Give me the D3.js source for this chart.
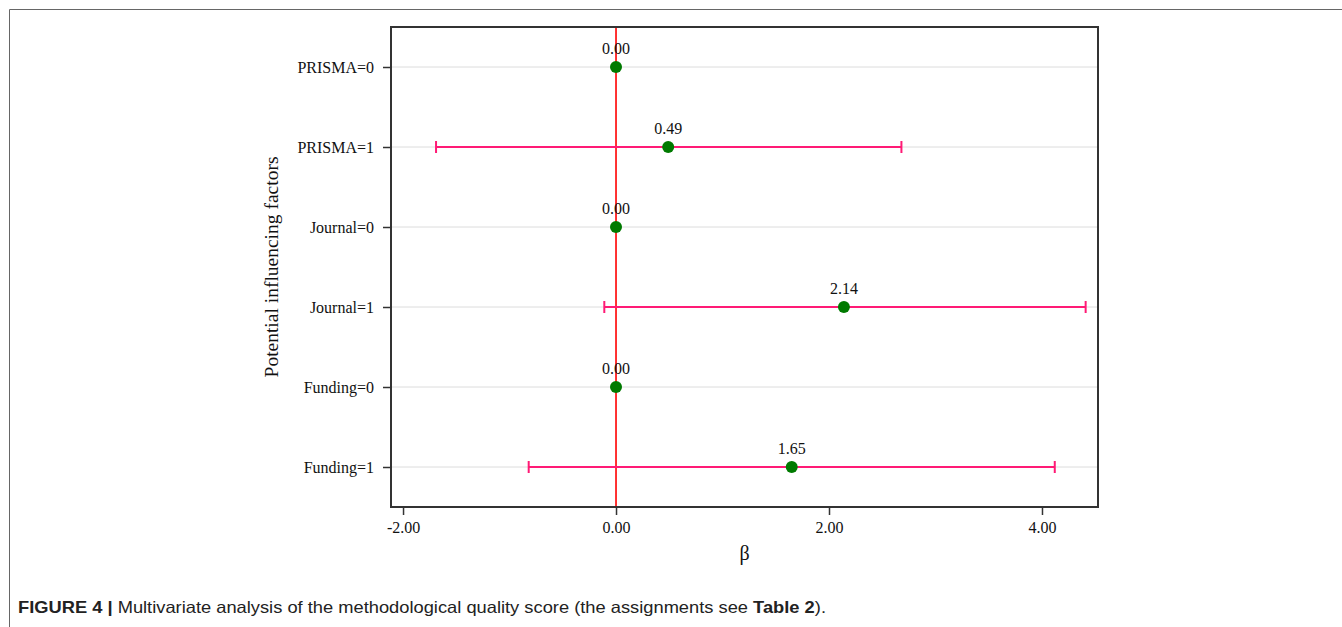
<!DOCTYPE html>
<html>
<head>
<meta charset="utf-8">
<script src="https://cdn.jsdelivr.net/npm/d3@7"></script>
<style>
  html, body { margin: 0; padding: 0; background: #fff; }
  svg { display: block; }
</style>
</head>
<body>
<svg id="chart" width="1342" height="627"></svg>
<script>
// ---- data ----
const categories = ["PRISMA=0", "PRISMA=1", "Journal=0", "Journal=1", "Funding=0", "Funding=1"];
const estimates  = [0.00, 0.49, 0.00, 2.14, 0.00, 1.65];
const ciLower    = [null, -1.69, null, -0.11, null, -0.82];
const ciUpper    = [null, 2.68, null, 4.41, null, 4.12];
const xTicks     = [-2, 0, 2, 4];
const xDomain    = [-2.113, 4.526];
const xLabel     = "β";
const yLabel     = "Potential influencing factors";
const captionBold = "FIGURE 4 | ";
const captionText = "Multivariate analysis of the methodological quality score (the assignments see ";
const captionBold2 = "Table 2";
const captionEnd = ").";

const svg = d3.select("#chart");
const plot = { left: 391, right: 1098, top: 27, bottom: 507 };

// outer figure frame (top and left lines)
svg.append("line").attr("x1", 9.5).attr("y1", 9.5).attr("x2", 1342).attr("y2", 9.5)
  .attr("stroke", "#666").attr("stroke-width", 1);
svg.append("line").attr("x1", 9.5).attr("y1", 9.5).attr("x2", 9.5).attr("y2", 627)
  .attr("stroke", "#666").attr("stroke-width", 1);

const x = d3.scaleLinear().domain(xDomain).range([plot.left, plot.right]);
const y = d3.scalePoint().domain(categories).range([plot.top, plot.bottom]).padding(0.5);

const serif = "'Liberation Serif', 'Times New Roman', serif";

// gridlines
svg.append("g").selectAll("line").data(categories).join("line")
  .attr("x1", plot.left).attr("x2", plot.right)
  .attr("y1", d => y(d)).attr("y2", d => y(d))
  .attr("stroke", "#dcdcdc").attr("stroke-width", 1);

// reference line at 0
svg.append("line")
  .attr("x1", x(0)).attr("x2", x(0))
  .attr("y1", plot.top).attr("y2", plot.bottom)
  .attr("stroke", "#ff0000").attr("stroke-width", 1.6);

// error bars
const rows = categories.map((c, i) => ({ c, est: estimates[i], lo: ciLower[i], hi: ciUpper[i] }));
const withCI = rows.filter(r => r.lo !== null);
const eb = svg.append("g").attr("stroke", "#ff1a75").attr("stroke-width", 2);
eb.selectAll("line.bar").data(withCI).join("line").attr("class", "bar")
  .attr("x1", d => x(d.lo)).attr("x2", d => x(d.hi))
  .attr("y1", d => y(d.c)).attr("y2", d => y(d.c));
eb.selectAll("line.capl").data(withCI).join("line").attr("class", "capl")
  .attr("x1", d => x(d.lo)).attr("x2", d => x(d.lo))
  .attr("y1", d => y(d.c) - 6).attr("y2", d => y(d.c) + 6);
eb.selectAll("line.caph").data(withCI).join("line").attr("class", "caph")
  .attr("x1", d => x(d.hi)).attr("x2", d => x(d.hi))
  .attr("y1", d => y(d.c) - 6).attr("y2", d => y(d.c) + 6);

// points
svg.append("g").selectAll("circle").data(rows).join("circle")
  .attr("cx", d => x(d.est)).attr("cy", d => y(d.c)).attr("r", 6)
  .attr("fill", "#007a00");

// value labels
svg.append("g").selectAll("text").data(rows).join("text")
  .attr("x", d => x(d.est)).attr("y", d => y(d.c) - 13)
  .attr("text-anchor", "middle")
  .attr("font-family", serif).attr("font-size", 16).attr("fill", "#111")
  .text(d => d.est.toFixed(2));

// frame
svg.append("rect")
  .attr("x", plot.left).attr("y", plot.top)
  .attr("width", plot.right - plot.left).attr("height", plot.bottom - plot.top)
  .attr("fill", "none").attr("stroke", "#333").attr("stroke-width", 2);

// x axis
const fmt = d => d3.format(".2f")(d).replace("−", "-");
const xAxis = svg.append("g").attr("transform", `translate(0,${plot.bottom})`)
  .call(d3.axisBottom(x).tickValues(xTicks).tickFormat(fmt).tickSize(8).tickSizeOuter(0));
xAxis.select(".domain").remove();
xAxis.selectAll(".tick line").attr("stroke", "#333").attr("stroke-width", 1.5);
xAxis.selectAll(".tick text").attr("font-family", serif).attr("font-size", 16).attr("fill", "#111").attr("dy", "0.95em");

// y axis
const yAxis = svg.append("g").attr("transform", `translate(${plot.left},0)`)
  .call(d3.axisLeft(y).tickSize(8).tickSizeOuter(0));
yAxis.select(".domain").remove();
yAxis.selectAll(".tick line").attr("stroke", "#333").attr("stroke-width", 1.5);
yAxis.selectAll(".tick text").attr("font-family", serif).attr("font-size", 16).attr("fill", "#111").attr("x", -17);

// axis titles
svg.append("text")
  .attr("x", (plot.left + plot.right) / 2).attr("y", 560)
  .attr("text-anchor", "middle")
  .attr("font-family", serif).attr("font-size", 20).attr("fill", "#111")
  .text(xLabel);
svg.append("text")
  .attr("transform", `translate(278,${(plot.top + plot.bottom) / 2}) rotate(-90)`)
  .attr("text-anchor", "middle")
  .attr("font-family", serif).attr("font-size", 19.5).attr("fill", "#111")
  .text(yLabel);

// caption
const cap = svg.append("text").attr("x", 18).attr("y", 613)
  .attr("font-family", "'Liberation Sans', Arial, sans-serif").attr("font-size", 16.5).attr("fill", "#222")
  .attr("textLength", 808).attr("lengthAdjust", "spacingAndGlyphs");
cap.append("tspan").attr("font-weight", "bold").text(captionBold);
cap.append("tspan").text(captionText);
cap.append("tspan").attr("font-weight", "bold").text(captionBold2);
cap.append("tspan").text(captionEnd);
</script>
</body>
</html>
